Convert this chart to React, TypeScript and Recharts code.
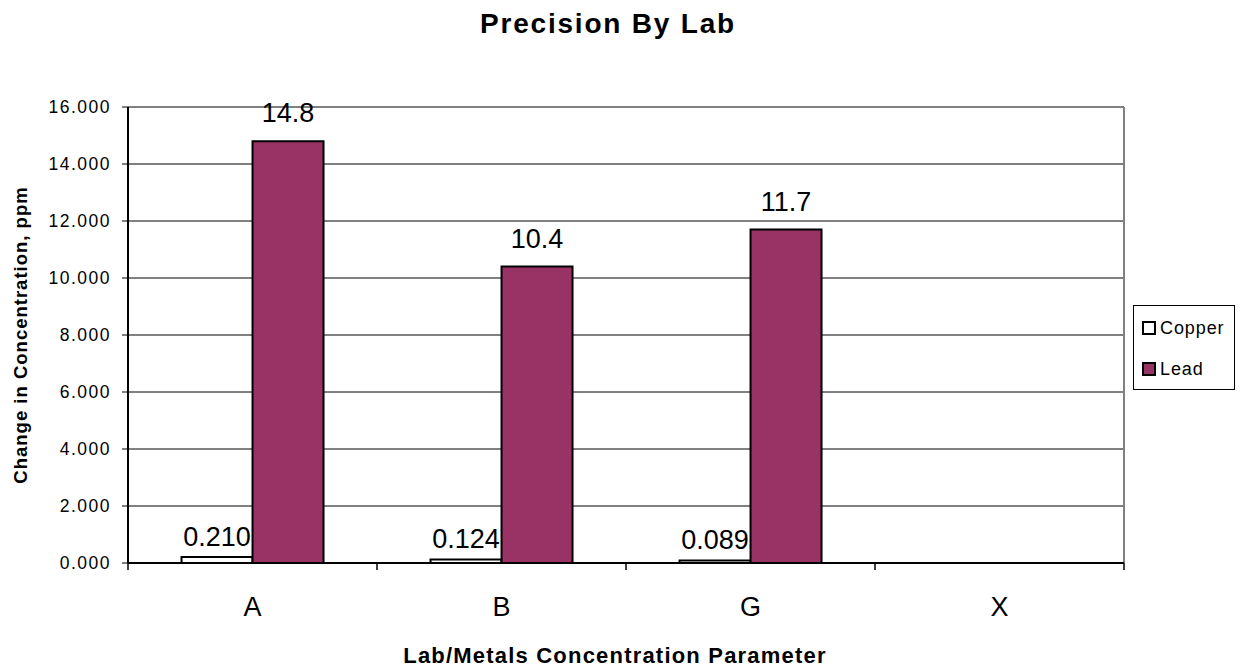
import React from "react";
import {
  BarChart,
  Bar,
  XAxis,
  YAxis,
  CartesianGrid,
  LabelList,
} from "recharts";

const labs = ["A", "B", "G", "X"];
const copper = [0.21, 0.124, 0.089, null];
const lead = [14.8, 10.4, 11.7, null];
const yTicks = [0, 2, 4, 6, 8, 10, 12, 14, 16];
const seriesNames = ["Copper", "Lead"];

const data = labs.map((lab, i) => ({
  lab,
  Copper: copper[i],
  Lead: lead[i],
}));

const FONT = "Arial, 'Liberation Sans', sans-serif";
const LEAD_COLOR = "#993366";
const seriesFill: Record<string, string> = { Copper: "#fff", Lead: LEAD_COLOR };

// ticks sit between categories, like the original
const CategoryTick = (props: any) => {
  const { x, y, payload, index, visibleTicksCount } = props;
  const half = payload.offset ?? 0;
  const isLast = index === visibleTicksCount - 1;
  return (
    <g>
      <line x1={x - half} y1={y} x2={x - half} y2={y + 7} stroke="#000" strokeWidth={1.5} />
      {isLast && (
        <line x1={x + half} y1={y} x2={x + half} y2={y + 7} stroke="#000" strokeWidth={1.5} />
      )}
      <text x={x} y={y + 53} textAnchor="middle" fontSize={27} fontFamily={FONT} fill="#000">
        {payload.value}
      </text>
    </g>
  );
};

export default function App() {
  return (
    <div style={{ position: "absolute", left: 0, top: 0, width: 1243, height: 669, background: "#fff" }}>
      <div
        style={{
          position: "absolute",
          left: 0,
          top: 10,
          width: 1216,
          textAlign: "center",
          fontFamily: FONT,
          fontWeight: "bold",
          fontSize: 28,
          lineHeight: "28px",
          letterSpacing: 1.8,
          color: "#000",
        }}
      >
        Precision By Lab
      </div>

      {/* legend box */}
      <div
        style={{
          position: "absolute",
          left: 1133,
          top: 305,
          width: 100,
          height: 83,
          border: "1px solid #000",
          background: "#fff",
          fontFamily: FONT,
          fontSize: 18,
          letterSpacing: 0.9,
          color: "#000",
          zIndex: 2,
        }}
      >
        {seriesNames.map((name, i) => (
          <div
            key={name}
            style={{
              display: "flex",
              alignItems: "center",
              height: 20,
              marginTop: i === 0 ? 12 : 21,
              paddingLeft: 8,
            }}
          >
            <span
              style={{
                display: "inline-block",
                width: 10,
                height: 10,
                border: "2px solid #000",
                background: seriesFill[name],
                marginRight: 4,
              }}
            />
            <span>{name}</span>
          </div>
        ))}
      </div>

      <BarChart
        width={1243}
        height={669}
        data={data}
        margin={{ top: 107, right: 119, bottom: 0, left: 0 }}
        barCategoryGap="21.5%"
        barGap={0}
      >
        <CartesianGrid vertical={false} stroke="#000" strokeWidth={1} />
        {/* grey frame on top and right of the plot area */}
        <CartesianGrid
          stroke="#808080"
          strokeWidth={2}
          horizontalCoordinatesGenerator={({ offset }: any) => [offset.top]}
          verticalCoordinatesGenerator={({ offset }: any) => [offset.left + offset.width]}
        />
        <XAxis
          dataKey="lab"
          height={106}
          axisLine={{ stroke: "#000", strokeWidth: 2 }}
          tickLine={false}
          tickSize={0}
          tickMargin={0}
          interval={0}
          tick={<CategoryTick />}
          label={{
            value: "Lab/Metals Concentration Parameter",
            position: "insideBottom",
            offset: 6,
            dx: -11,
            style: {
              fontFamily: FONT,
              fontWeight: "bold",
              fontSize: 22,
              letterSpacing: 1.2,
              fill: "#000",
            },
          }}
        />
        <YAxis
          width={128}
          domain={[0, 16]}
          ticks={yTicks}
          interval={0}
          tickFormatter={(v: number) => v.toFixed(3)}
          axisLine={{ stroke: "#000", strokeWidth: 2 }}
          tickLine={{ stroke: "#000" }}
          tickSize={6}
          tickMargin={11}
          tick={{ fontFamily: FONT, fontSize: 17.5, letterSpacing: 1.5, fill: "#000" }}
          label={({ viewBox }: any) => (
            <text
              x={viewBox.x + 20}
              y={viewBox.y + viewBox.height / 2}
              transform={`rotate(-90, ${viewBox.x + 20}, ${viewBox.y + viewBox.height / 2})`}
              textAnchor="middle"
              dominantBaseline="central"
              fontFamily={FONT}
              fontWeight="bold"
              fontSize={18.5}
              letterSpacing={1}
              fill="#000"
            >
              Change in Concentration, ppm
            </text>
          )}
        />
        <Bar dataKey="Copper" fill="#fff" stroke="#000" strokeWidth={2} isAnimationActive={false}>
          <LabelList
            dataKey="Copper"
            position="top"
            offset={11}
            formatter={(v: any) => (v == null ? "" : Number(v).toFixed(3))}
            style={{ fontFamily: FONT, fontSize: 27, fill: "#000" }}
          />
        </Bar>
        <Bar dataKey="Lead" fill={LEAD_COLOR} stroke="#000" strokeWidth={2} isAnimationActive={false}>
          <LabelList
            dataKey="Lead"
            position="top"
            offset={19}
            formatter={(v: any) => (v == null ? "" : Number(v).toFixed(1))}
            style={{ fontFamily: FONT, fontSize: 27, fill: "#000" }}
          />
        </Bar>
      </BarChart>
    </div>
  );
}
